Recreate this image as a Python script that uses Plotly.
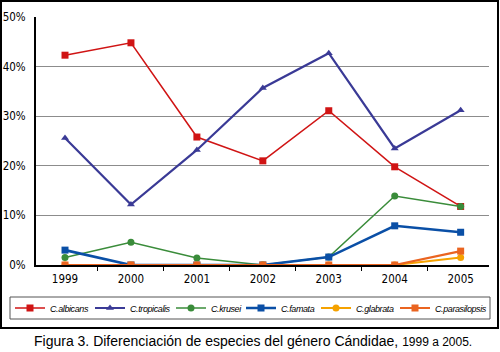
import plotly.graph_objects as go

years = ['1999', '2000', '2001', '2002', '2003', '2004', '2005']
albicans = [42.3, 44.8, 25.8, 21.0, 31.1, 19.8, 11.8]
tropicalis = [25.6, 12.2, 23.2, 35.7, 42.7, 23.5, 31.2]
krusei = [1.5, 4.6, 1.4, 0, 1.6, 13.9, 11.8]
famata = [3.0, 0, 0, 0, 1.6, 7.9, 6.6]
glabrata = [0, 0, 0, 0, 0, 0, 1.5]
parasilopsis = [0, 0, 0, 0, 0, 0, 2.8]

series = [
    ('C.albicans', albicans, '#d01414', 'square', 1.5),
    ('C.tropicalis', tropicalis, '#3a3a96', 'triangle-up', 2.2),
    ('C.krusei', krusei, '#3a8c3a', 'circle', 1.5),
    ('C.famata', famata, '#0a4fa6', 'square', 2.6),
    ('C.glabrata', glabrata, '#f5a200', 'circle', 2),
    ('C.parasilopsis', parasilopsis, '#ea6420', 'square', 2.2),
]
# left edge (px) of each legend entry box
legend_x = [10, 90, 171, 241, 316, 395]

COND = 'DejaVu Sans Condensed, sans-serif'
ARIAL = 'Liberation Sans, Arial, sans-serif'

W, H = 500, 352
L, R, T, B = 36, 11, 17, 87
pw, ph = W - L - R, H - T - B

def px(xp):
    return (xp - L) / pw

def py(yp):
    return (H - B - yp) / ph

fig = go.Figure()
legends = {}
for i, (name, vals, col, sym, lw) in enumerate(series):
    lname = 'legend' if i == 0 else 'legend%d' % (i + 1)
    fig.add_trace(go.Scatter(
        x=years, y=vals,
        name='<span style="letter-spacing:-0.4px">%s</span>' % name,
        mode='lines+markers',
        line=dict(color=col, width=lw),
        marker=dict(symbol=sym, size=7, color=col),
        legend=lname, showlegend=True,
    ))
    legends[lname] = dict(
        orientation='h', x=px(legend_x[i]), y=py(308),
        xanchor='left', yanchor='middle',
        borderwidth=0, bgcolor='rgba(0,0,0,0)',
        font=dict(family=ARIAL, size=9, color='black', style='italic'),
        itemwidth=30,
    )

fig.update_layout(
    width=W, height=H,
    margin=dict(l=L, r=R, t=T, b=B, autoexpand=False),
    paper_bgcolor='white', plot_bgcolor='white',
    xaxis=dict(
        type='category', range=[-0.44, 6.43],
        showline=True, linecolor='black', linewidth=2,
        ticks='outside', tickson='boundaries', ticklen=4, tickcolor='black', tickwidth=1,
        showgrid=False, zeroline=False, ticklabelstandoff=2,
        tickfont=dict(family=COND, size=11.5, color='black'),
    ),
    yaxis=dict(
        range=[0, 50], dtick=10, ticksuffix='%',
        showline=True, linecolor='black', linewidth=2,
        showgrid=True, gridcolor='#8c8c8c', gridwidth=1,
        zeroline=False, ticks='', ticklabelstandoff=6,
        tickfont=dict(family=COND, size=11.5, color='black'),
    ),
    shapes=[
        dict(type='rect', xref='paper', yref='paper',
             x0=px(1), x1=px(498), y0=py(328), y1=py(1),
             line=dict(color='black', width=2), fillcolor='rgba(0,0,0,0)'),
        dict(type='rect', xref='paper', yref='paper',
             x0=px(10), x1=px(490), y0=py(319), y1=py(297),
             line=dict(color='#555555', width=1), fillcolor='rgba(0,0,0,0)'),
    ],
    annotations=[dict(
        xref='paper', yref='paper', x=px(253), y=py(341),
        xanchor='center', yanchor='middle', showarrow=False,
        text='Figura 3. Diferenciación de especies del género Cándidae, <span style="font-size:12px">1999 a 2005.</span>',
        font=dict(family=ARIAL, size=14, color='black'),
    )],
    **legends,
)

fig.write_html('out.html', config={'displayModeBar': False},
               post_script="document.body.style.margin='0';document.body.style.overflow='hidden';")
